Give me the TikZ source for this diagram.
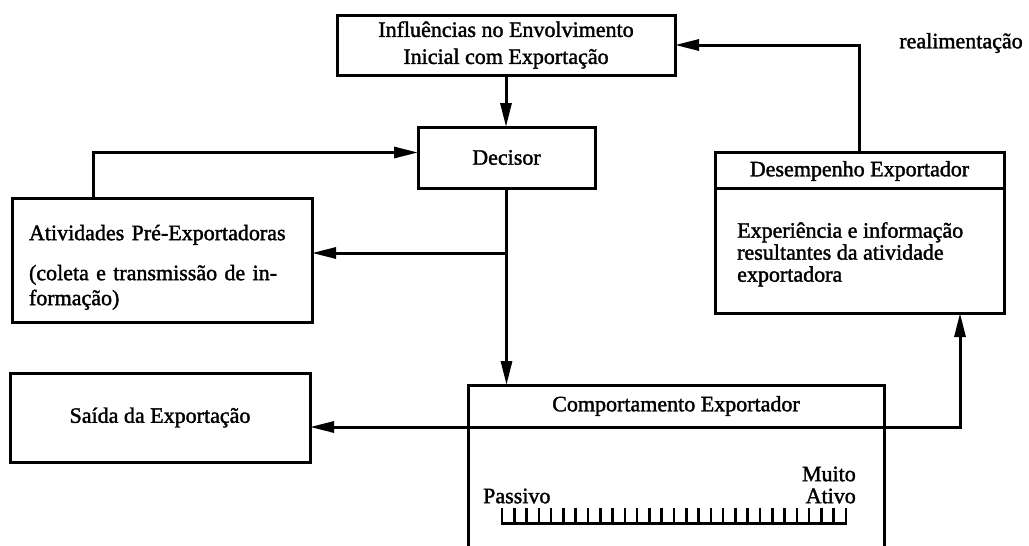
\documentclass[tikz,border=0pt]{standalone}
\usepackage{fontspec}
\setmainfont{Liberation Serif}[FakeBold=1.6]
\usetikzlibrary{arrows.meta,calc}
\begin{document}
\begin{tikzpicture}[x=1pt,y=-1pt,
  txt/.style={font=\fontsize{22}{27}\selectfont, inner sep=0pt},
  frame/.style={txt, draw, line width=3pt, outer sep=0pt, align=center},
  plain/.style={line width=3pt},
  link/.style={line width=3pt, -{Triangle[length=24pt,width=11pt]}},
  tick/.style={line width=2.6pt}]
\useasboundingbox (0,0) rectangle (1029,546);

% main boxes
\node[frame, minimum width=338pt, minimum height=60pt] (infl) at (506,45)
  {Influências no Envolvimento\\Inicial com Exportação};
\node[frame, minimum width=177pt, minimum height=61pt] (dec) at (506.5,157.5) {Decisor};
\node[frame, minimum width=300pt, minimum height=124pt, align=left, text width=266pt,
  font=\fontsize{22}{25}\selectfont] (ativ) at (162,260)
  {\rule{0pt}{30pt}Atividades Pré-Exportadoras\\[15pt](coleta e transmissão de in-\\formação)};
\node[frame, minimum width=300pt, minimum height=89pt] (said) at (160,417.5)
  {Saída da Exportação};

% performance box with title strip
\node[frame, minimum width=289pt, minimum height=161pt] (desemp) at (859.5,232.5) {};
\node[txt] (desempT) at (859.5,171) {Desempenho Exportador};
\draw[plain] ([yshift=-36pt]desemp.north west) -- ([yshift=-36pt]desemp.north east);
\node[txt, anchor=north west, align=left, font=\fontsize{22}{22}\selectfont] (desempB)
  at (737,222) {Experiência e informação\\resultantes da atividade\\exportadora};

% behaviour box, open at the bottom
\node[frame, minimum width=416pt, minimum height=42pt] (comp) at (676,406)
  {Comportamento Exportador};
\draw[plain] (comp.south west) -- ++(0,119);
\draw[plain] (comp.south east) -- ++(0,119);

% passive / active scale
\node[txt, anchor=west] (passivo) at (483,496) {Passivo};
\node[txt, anchor=east, align=right, font=\fontsize{22}{22}\selectfont] (ativo)
  at (856,485) {Muito\\Ativo};
\foreach \i in {0,...,28}
  \draw[tick] ({502+\i*12.2857},508) -- ++(0,15);
\draw[plain] (501,523) -- (847,523);

\node[txt] (realim) at (961,43) {realimentação};

% connectors
\draw[link] (infl.south) -- (infl.south |- dec.north);
\draw[link] ([xshift=81pt]ativ.north west) |- ([yshift=5pt]dec.west);
\draw[link] (dec.south) -- (dec.south |- comp.north);
\coordinate (split) at (dec.south |- 0,253);
\draw[link] (split) -- (split -| ativ.east);
\draw[link] (comp.south west) -- (comp.south west -| said.east);
\draw[link] (comp.south east) -| ([xshift=245pt]desemp.south west);
\draw[link] (desemp.north) |- (infl.east);
\end{tikzpicture}
\end{document}
